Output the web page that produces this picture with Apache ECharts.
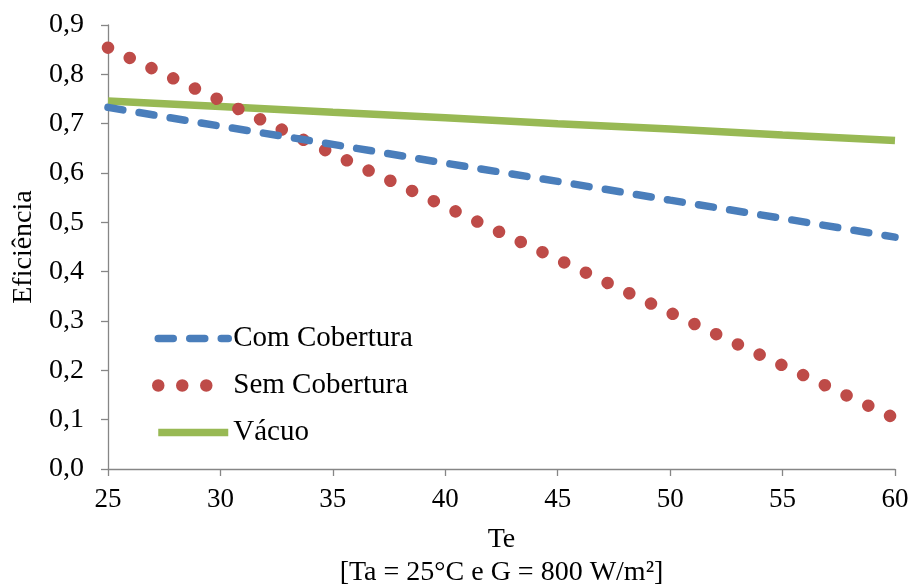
<!DOCTYPE html>
<html>
<head>
<meta charset="utf-8">
<script src="https://cdn.jsdelivr.net/npm/echarts@6/dist/echarts.min.js"></script>
<style>
html,body{margin:0;padding:0;background:#fff;}
#chart{width:914px;height:586px;}
</style>
</head>
<body>
<div id="chart"></div>
<script>
const te = [25, 30, 35, 40, 45, 50, 55, 60];
const comCobertura = [0.733, 0.695, 0.658, 0.620, 0.583, 0.545, 0.508, 0.470];
const semCobertura = [0.854, 0.747, 0.639, 0.532, 0.425, 0.317, 0.210, 0.103];
const vacuo = [0.746, 0.735, 0.723, 0.712, 0.700, 0.689, 0.677, 0.666];
const seriesNames = ['Com Cobertura', 'Sem Cobertura', 'Vácuo'];
const xName = 'Te';
const xSubName = '[Ta = 25°C e G = 800 W/m²]';
const yName = 'Eficiência';

const FONT = '"Liberation Serif", "Times New Roman", serif';
const AXIS_COLOR = '#868686';

function pairs(ys) { return te.map((t, i) => [t, ys[i]]); }

const chart = echarts.init(document.getElementById('chart'), null, {renderer: 'canvas'});
chart.setOption({
  animation: false,
  backgroundColor: '#ffffff',
  textStyle: {fontFamily: FONT},
  grid: {left: 108, right: 19, top: 25, bottom: 117, containLabel: false, outerBoundsMode: 'none'},
  legend: {
    orient: 'vertical',
    left: 152,
    top: 324,
    padding: 0,
    itemWidth: 70,
    itemHeight: 14,
    itemGap: 18,
    data: seriesNames,
    itemStyle: {opacity: 0},
    lineStyle: {width: 'inherit', type: 'inherit', cap: 'inherit'},
    textStyle: {fontFamily: FONT, fontSize: 29, color: '#000'}
  },
  xAxis: {
    type: 'value',
    min: 25, max: 60, interval: 5,
    name: xName + '\n' + xSubName,
    nameLocation: 'middle',
    nameGap: 54,
    nameTextStyle: {fontFamily: FONT, fontSize: 28, color: '#000', lineHeight: 33, verticalAlign: 'top'},
    axisLine: {lineStyle: {color: AXIS_COLOR, width: 1.3}},
    axisTick: {show: true, length: 7, lineStyle: {color: AXIS_COLOR, width: 1.3}},
    axisLabel: {fontFamily: FONT, fontSize: 27, color: '#000', margin: 17},
    splitLine: {show: false}
  },
  yAxis: {
    type: 'value',
    min: 0, max: 0.9, interval: 0.1,
    name: yName,
    nameLocation: 'middle',
    nameGap: 70,
    nameRotate: 90,
    nameTextStyle: {fontFamily: FONT, fontSize: 28, color: '#000'},
    axisLine: {show: true, lineStyle: {color: AXIS_COLOR, width: 1.3}},
    axisTick: {show: true, length: 7, lineStyle: {color: AXIS_COLOR, width: 1.3}},
    axisLabel: {fontFamily: FONT, fontSize: 28, color: '#000', margin: 24,
      formatter: v => v.toFixed(1).replace('.', ',')},
    splitLine: {show: false}
  },
  series: [
    {
      name: seriesNames[0], type: 'line', data: pairs(comCobertura),
      showSymbol: false, symbol: 'none',
      lineStyle: {color: '#4A7EBB', width: 7.5, type: [15, 16.5], cap: 'round'},
      itemStyle: {color: '#4A7EBB'},
      z: 3
    },
    {
      name: seriesNames[1], type: 'line', data: pairs(semCobertura),
      showSymbol: false, symbol: 'none',
      lineStyle: {color: '#BE4B48', width: 12.5, type: [0.01, 24], cap: 'round'},
      itemStyle: {color: '#BE4B48'},
      z: 2
    },
    {
      name: seriesNames[2], type: 'line', data: pairs(vacuo),
      showSymbol: false, symbol: 'none',
      lineStyle: {color: '#98B954', width: 7.5, cap: 'butt'},
      itemStyle: {color: '#98B954'},
      z: 1
    }
  ]
});
</script>
</body>
</html>
